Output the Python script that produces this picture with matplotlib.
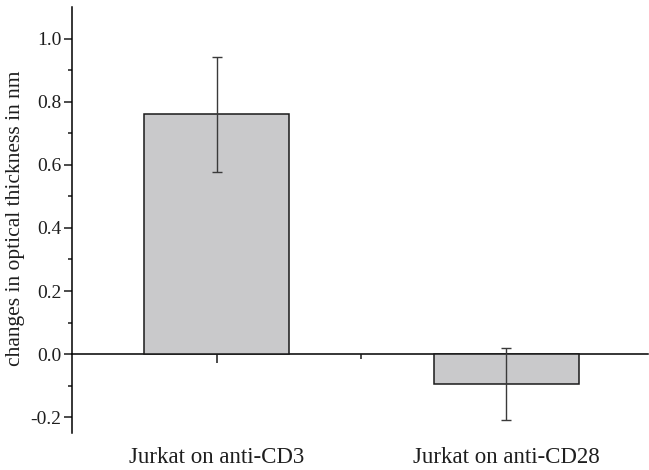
import matplotlib
matplotlib.use("Agg")
import matplotlib.pyplot as plt
import matplotlib.transforms as mtransforms
from matplotlib.ticker import FixedLocator

categories = ["Jurkat on anti-CD3", "Jurkat on anti-CD28"]
values = [0.76, -0.095]
errors = [0.183, 0.113]
yticks = [-0.2, 0.0, 0.2, 0.4, 0.6, 0.8, 1.0]
ytick_labels = ["-0.2", "0.0", "0.2", "0.4", "0.6", "0.8", "1.0"]
yminor = [-0.1, 0.1, 0.3, 0.5, 0.7, 0.9]
ylabel = "changes in optical thickness in nm"

plt.rcParams['font.family'] = ['Liberation Serif', 'DejaVu Serif']

fig = plt.figure(figsize=(6.49, 4.70), dpi=100)
ax = fig.add_axes([72/649, 37/470, 576/649, 426/470])

pos = [1, 2]
ax.bar(pos, values, width=0.5, color='#c9c9cb', edgecolor='#1a1a1a', linewidth=1.1, zorder=2)
ax.errorbar(pos, values, yerr=errors, fmt='none', ecolor='#3a3a3a', elinewidth=1.0,
            capsize=3.3, capthick=1.0, zorder=3)

ax.set_xlim(0.5, 2.49)
ax.set_ylim(-0.25, 1.10)

for s in ['top', 'right']:
    ax.spines[s].set_visible(False)
ax.spines['bottom'].set_position(('data', 0))
ax.spines['bottom'].set_linewidth(1.1)
ax.spines['left'].set_linewidth(1.1)
ax.spines['bottom'].set_zorder(1)

ax.set_xticks(pos)
ax.set_xticklabels([])
ax.xaxis.set_minor_locator(FixedLocator([1.5]))
ax.tick_params(axis='x', which='major', direction='out', length=6.5, width=1.1, color='#1a1a1a')
ax.tick_params(axis='x', which='minor', direction='out', length=3.5, width=1.1, color='#1a1a1a')

ax.set_yticks(yticks)
ax.set_yticklabels(ytick_labels, fontsize=14, color='#1e1e1e')
ax.yaxis.set_minor_locator(FixedLocator(yminor))
ax.tick_params(axis='y', which='major', direction='out', length=5.8, width=1.1, pad=2, color='#1a1a1a')
ax.tick_params(axis='y', which='minor', direction='out', length=3, width=1.1, color='#1a1a1a')

trans = mtransforms.blended_transform_factory(ax.transData, fig.transFigure)
for p, c in zip(pos, categories):
    ax.text(p, 7/470, c, transform=trans, ha='center', va='baseline', fontsize=16.5, color='#1e1e1e')

fig.text(16/649, (470 - 218)/470, ylabel, rotation=90, ha='center', va='center', fontsize=15.5, color='#1e1e1e')

fig.savefig("out.png", dpi=100)
